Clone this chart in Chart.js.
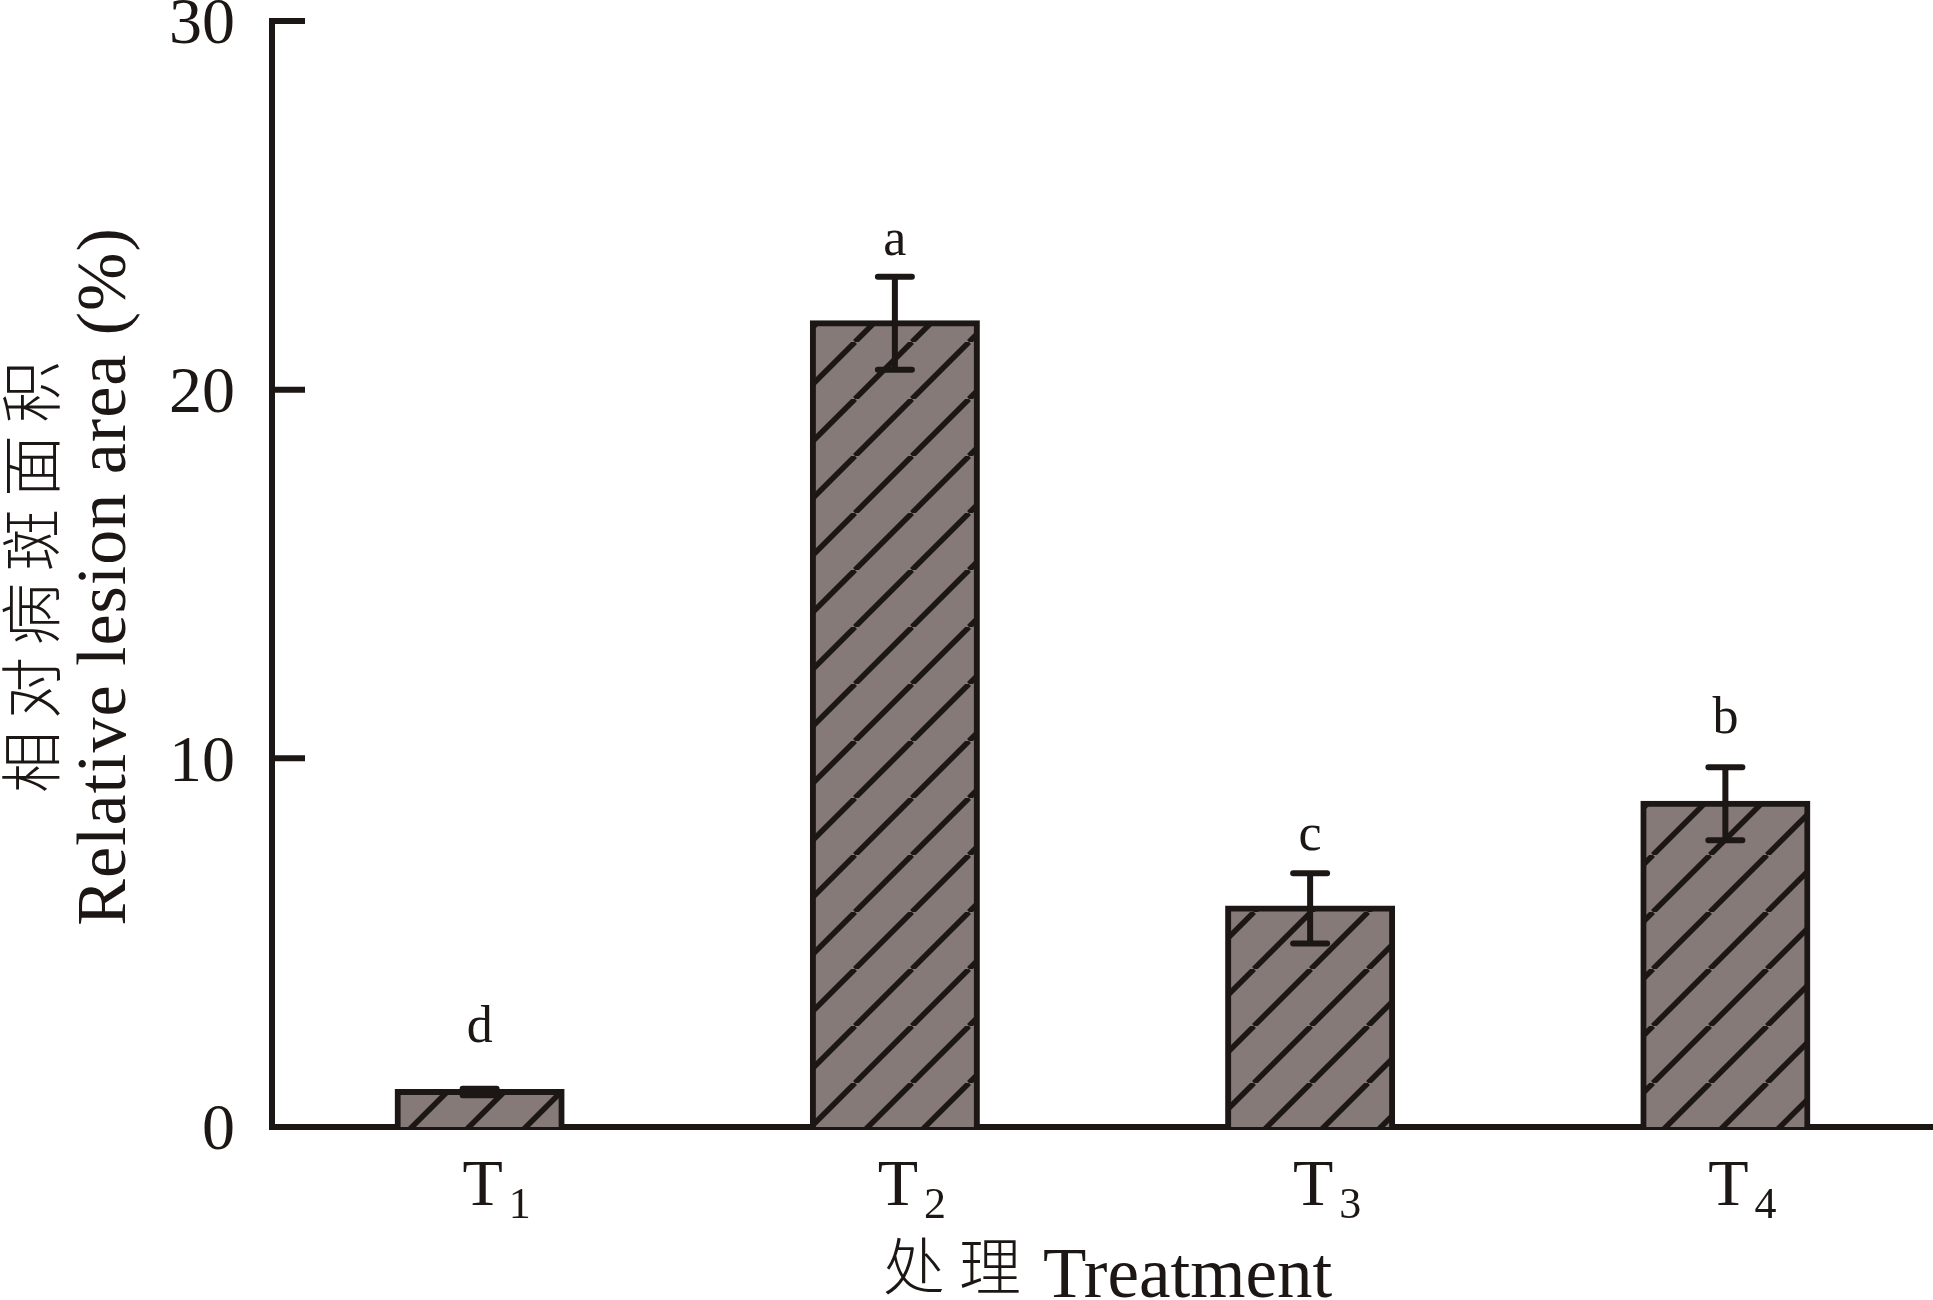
<!DOCTYPE html>
<html>
<head>
<meta charset="utf-8">
<script src="https://cdn.jsdelivr.net/npm/chart.js@4.4.1/dist/chart.umd.min.js"></script>
<style>
  html, body { margin: 0; padding: 0; background: #fff; }
  #wrap { width: 1933px; height: 1300px; }
</style>
</head>
<body>
<div id="wrap"><canvas id="myChart"></canvas></div>
<script>
// values
const categories = ['T1', 'T2', 'T3', 'T4'];
const subscripts = ['1', '2', '3', '4'];
const means = [0.95, 21.8, 5.93, 8.77];
const errors = [0.09, 1.26, 0.95, 0.99];
const letters = ['d', 'a', 'c', 'b'];
const letterY = [2.31, 23.66, 7.52, 10.69];   // baseline of the significance letters
const yTicks = [0, 10, 20, 30];

const ink = '#1c1714';
const serif = '"Liberation Serif", "Times New Roman", serif';
const cjk = '"Noto Sans CJK SC", sans-serif';

// diagonal hatch fill
function makeHatch() {
  const s = 57;
  const c = document.createElement('canvas');
  c.width = s; c.height = s;
  const g = c.getContext('2d');
  g.fillStyle = '#857a77';
  g.fillRect(0, 0, s, s);
  g.strokeStyle = ink;
  g.lineWidth = 5.5;
  g.beginPath();
  for (let k = -1; k <= 1; k++) {
    g.moveTo(k * s, s);
    g.lineTo(k * s + s, 0);
  }
  g.stroke();
  return g.createPattern(c, 'repeat');
}

function spacedText(ctx, text, x, y, spacing) {
  // draws text left-aligned char by char, returns end x
  for (const ch of text) {
    ctx.fillText(ch, x, y);
    x += ctx.measureText(ch).width + spacing;
  }
  return x - spacing;
}
function spacedWidth(ctx, text, spacing) {
  let w = 0;
  for (const ch of text) w += ctx.measureText(ch).width + spacing;
  return w - spacing;
}

const decor = {
  id: 'decor',
  afterDatasetsDraw(chart) {
    const { ctx, chartArea: a, scales: { x, y } } = chart;
    const meta = chart.getDatasetMeta(0);
    ctx.save();
    ctx.strokeStyle = ink;
    ctx.fillStyle = ink;

    // error bars
    ctx.lineWidth = 6;
    ctx.lineCap = 'round';
    meta.data.forEach((bar, i) => {
      const hi = y.getPixelForValue(means[i] + errors[i]);
      const lo = y.getPixelForValue(means[i] - errors[i]);
      ctx.beginPath();
      ctx.moveTo(bar.x, hi); ctx.lineTo(bar.x, lo);
      ctx.moveTo(bar.x - 17, hi); ctx.lineTo(bar.x + 17, hi);
      ctx.moveTo(bar.x - 17, lo); ctx.lineTo(bar.x + 17, lo);
      ctx.stroke();
    });

    // inward y ticks
    ctx.lineCap = 'butt';
    ctx.lineWidth = 6;
    yTicks.forEach(v => {
      const py = y.getPixelForValue(v);
      ctx.beginPath();
      ctx.moveTo(a.left, py);
      ctx.lineTo(a.left + 33, py);
      ctx.stroke();
    });

    // significance letters
    ctx.font = '52px ' + serif;
    ctx.textAlign = 'center';
    ctx.textBaseline = 'alphabetic';
    meta.data.forEach((bar, i) => {
      ctx.fillText(letters[i], bar.x, y.getPixelForValue(letterY[i]));
    });

    // category labels with subscripts
    categories.forEach((c, i) => {
      const cx = x.getPixelForValue(i) + 3;
      ctx.font = '66px ' + serif;
      ctx.textAlign = 'center';
      const tw = ctx.measureText(c.charAt(0)).width;
      ctx.fillText(c.charAt(0), cx, a.bottom + 78);
      ctx.font = '44px ' + serif;
      ctx.textAlign = 'left';
      ctx.fillText(subscripts[i], cx + tw / 2 + 6, a.bottom + 91);
    });

    // x title
    ctx.textAlign = 'left';
    ctx.font = '300 62px ' + cjk;
    const zhX = '处理';
    const zhW = spacedWidth(ctx, zhX, 14);
    ctx.font = '71px ' + serif;
    const enX = 'Treatment';
    const enW = ctx.measureText(enX).width;
    const gap = 22;
    let sx = (a.left + a.right) / 2 + 5 - (zhW + gap + enW) / 2;
    ctx.font = '300 62px ' + cjk;
    sx = spacedText(ctx, zhX, sx, 1290, 14);
    ctx.font = '71px ' + serif;
    ctx.fillText(enX, sx + gap, 1297);

    // y title (two lines, rotated)
    const my = (a.top + a.bottom) / 2 + 3;
    ctx.translate(0, my);
    ctx.rotate(-Math.PI / 2);
    ctx.font = '300 62px ' + cjk;
    ctx.textBaseline = 'middle';
    const zh = '相对病斑面积';
    const zw = spacedWidth(ctx, zh, 12);
    spacedText(ctx, zh, -zw / 2, 31, 12);
    ctx.font = '70px ' + serif;
    ctx.textBaseline = 'alphabetic';
    const en = 'Relative lesion area (%)';
    const ew = spacedWidth(ctx, en, 1);
    spacedText(ctx, en, -ew / 2, 125, 1);
    ctx.restore();
  }
};

const ctx = document.getElementById('myChart');
new Chart(ctx, {
  type: 'bar',
  data: {
    labels: categories,
    datasets: [{
      data: means,
      backgroundColor: makeHatch(),
      borderColor: ink,
      borderWidth: 6,
      inflateAmount: 3,
      barPercentage: 0.395,
      categoryPercentage: 1
    }]
  },
  options: {
    responsive: true,
    maintainAspectRatio: false,
    animation: false,
    layout: { padding: { top: 21, right: 0, bottom: 0, left: 0 } },
    plugins: { legend: { display: false }, tooltip: { enabled: false } },
    scales: {
      x: {
        z: 1,
        grid: { display: false },
        border: { color: ink, width: 6 },
        ticks: { display: false },
        afterFit(s) { s.height = 173; s.paddingLeft = 0; s.paddingRight = 0; }
      },
      y: {
        min: 0,
        max: 30,
        afterBuildTicks(s) { s.ticks = yTicks.map(v => ({ value: v })); },
        grid: { display: false },
        border: { color: ink, width: 6 },
        ticks: {
          color: ink,
          padding: 29,
          labelOffset: 5,
          font: { family: serif, size: 66, lineHeight: 0.6 }
        },
        afterFit(s) { s.width = 272; s.paddingTop = 0; s.paddingBottom = 0; }
      }
    }
  },
  plugins: [decor]
});
</script>
</body>
</html>
